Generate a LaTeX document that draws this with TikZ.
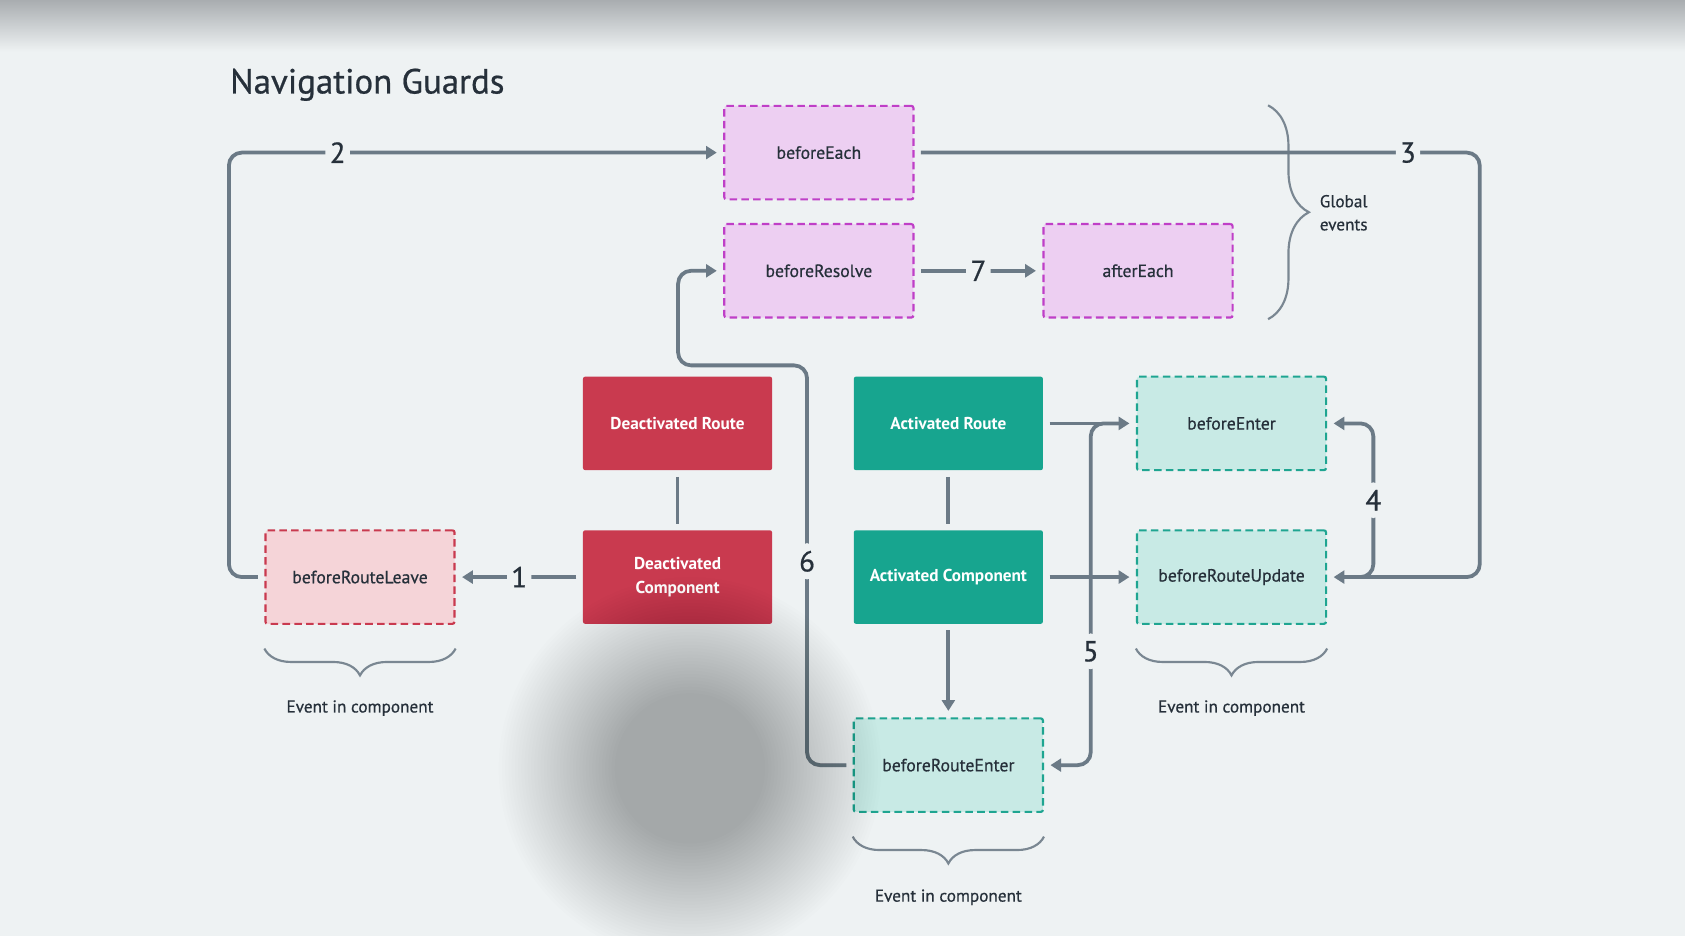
\documentclass[tikz,border=0pt]{standalone}
\usepackage{fontspec}
\setmainfont{PT Sans}
\newfontfamily\medfont{PT Sans}[FakeBold=0.6]
\usetikzlibrary{arrows.meta,positioning,calc,decorations.pathreplacing}
\definecolor{bgc}{HTML}{EEF2F3}
\definecolor{shadetop}{HTML}{A9ADB0}
\definecolor{redc}{HTML}{C93A4F}
\definecolor{tealc}{HTML}{17A58F}
\definecolor{pinkfill}{HTML}{F5D4D8}
\definecolor{purfill}{HTML}{EDCFF2}
\definecolor{purdraw}{HTML}{BF3FC7}
\definecolor{mintfill}{HTML}{C8EAE5}
\definecolor{mintdraw}{HTML}{1FA591}
\definecolor{linec}{HTML}{6B7A86}
\definecolor{bracec}{HTML}{7A8792}
\definecolor{textc}{HTML}{26303A}

\begin{document}
\begin{tikzpicture}[x=1pt,y=-1pt,
	box/.style={rectangle,rounded corners=2pt,minimum width=176pt,minimum height=87pt,inner sep=0pt,align=center,text=textc,font=\medfont\fontsize{16.5}{22}\selectfont},
	solidred/.style={box,fill=redc,text=white,font=\bfseries\fontsize{16}{22}\selectfont},
	solidteal/.style={box,fill=tealc,text=white,font=\bfseries\fontsize{16}{22}\selectfont},
	dashpink/.style={box,fill=pinkfill,draw=redc,line width=2pt,dash pattern=on 7pt off 4pt},
	dashpurple/.style={box,fill=purfill,draw=purdraw,line width=2pt,dash pattern=on 7pt off 4pt},
	dashmint/.style={box,fill=mintfill,draw=mintdraw,line width=2pt,dash pattern=on 7pt off 4pt},
	link/.style={draw=linec,line width=3.5pt,rounded corners=12pt,shorten <=6pt,shorten >=6pt,-{Triangle[length=10pt,width=12pt]}},
	bond/.style={draw=linec,line width=3.5pt,shorten <=6pt,shorten >=6pt},
	num/.style={fill=bgc,text=textc,font=\medfont\fontsize{27}{27}\selectfont,inner xsep=4pt,inner ysep=7pt},
	curly/.style={draw=bracec,line width=2pt,decorate,decoration={brace,amplitude=25pt}},
	note/.style={text=textc,font=\medfont\fontsize{16}{21.5}\selectfont,inner sep=0pt}]
		\def\xColA{335}
		\def\xColB{630.5}
		\def\xColC{762}
		\def\xColD{882.5}
		\def\xColE{1059}
		\def\xColF{1146}
		\def\yRowA{142}
		\def\yRowB{252}
		\def\yRowC{394}
		\def\yRowD{537}
		\def\yRowE{712}
		\def\xLeftRun{213}
		\def\xRightRun{1377}
		\def\xFour{1278}
		\def\xFive{1015}
		\def\xSix{751}
		\def\xSixUp{631}
		\def\ySixTurn{340}
		\def\yNote{663}
		\def\yNoteE{839}
		\def\xBlob{642}
		\def\yBlob{715}

\path[use as bounding box,fill=bgc] (0,0) rectangle (1568,871);
\shade[top color=shadetop,bottom color=bgc] (0,0) rectangle (1568,48);

\node[anchor=base west,text=textc,font=\medfont\fontsize{32.5}{32.5}\selectfont,inner sep=0pt] (title) at (214,87) {Navigation Guards};

\node[dashpurple] (be) at (\xColC,\yRowA) {beforeEach};
\node[dashpurple] (br) at (\xColC,\yRowB) {beforeResolve};
\node[dashpurple] (ae) at (\xColE,\yRowB) {afterEach};
\node[solidred] (dr) at (\xColB,\yRowC) {Deactivated Route};
\node[solidred] (dc) at (\xColB,\yRowD) {Deactivated\\Component};
\node[solidteal] (ar) at (\xColD,\yRowC) {Activated Route};
\node[solidteal] (ac) at (\xColD,\yRowD) {Activated Component};
\node[dashmint] (ben) at (\xColF,\yRowC) {beforeEnter};
\node[dashmint] (bru) at (\xColF,\yRowD) {beforeRouteUpdate};
\node[dashpink] (brl) at (\xColA,\yRowD) {beforeRouteLeave};
\node[dashmint] (bre) at (\xColD,\yRowE) {beforeRouteEnter};

\draw[curly] ([yshift=-22pt]brl.south east) -- ([yshift=-22pt]brl.south west);
\draw[curly] ([yshift=-22pt]bru.south east) -- ([yshift=-22pt]bru.south west);
\draw[curly] ([yshift=-22pt]bre.south east) -- ([yshift=-22pt]bre.south west);
\draw[curly,decoration={brace,amplitude=38pt}] (1180,98) -- (1180,297);

\node[note,anchor=base] (evl) at (\xColA,\yNote) {Event in component};
\node[note,anchor=base] (evu) at (\xColF,\yNote) {Event in component};
\node[note,anchor=base] (eve) at (\xColD,\yNoteE) {Event in component};
\node[note,anchor=west,align=left] (glob) at (1228,198) {Global\\events};

\draw[link] (dc.west) -- node[num]{1} (brl.east);
\draw[link] (brl.west) -- (\xLeftRun,\yRowD) -- (\xLeftRun,\yRowA) -- node[num,pos=0.22]{2} (be.west);
\draw[link] (be.east) -- node[num,pos=0.873]{3} (\xRightRun,\yRowA) -- (\xRightRun,\yRowD) -- (bru.east);
\draw[link,shorten <=14pt] (bru.east) -- (\xFour,\yRowD) -- node[num]{4} (\xFour,\yRowC) -- (ben.east);
\draw[link,shorten <=14pt] (ben.west) -- (\xFive,\yRowC) -- node[num,pos=0.667]{5} (\xFive,\yRowE) -- (bre.east);
\draw[link] (bre.west) -- (\xSix,\yRowE) -- node[num,pos=0.51]{6} (\xSix,\ySixTurn) -- (\xSixUp,\ySixTurn) -- (\xSixUp,\yRowB) -- (br.west);
\draw[link] (br.east) -- node[num]{7} (ae.west);
\draw[link] (ar.east) -- (ben.west);
\draw[link] (ac.east) -- (bru.west);
\draw[link] (ac.south) -- (bre.north);
\draw[bond] (dr.south) -- (dc.north);
\draw[bond] (ar.south) -- (ac.north);

\foreach \r in {70,73,...,178}
	\fill[black,fill opacity=0.0065] (\xBlob,\yBlob) circle (\r pt);

	\end{tikzpicture}
\end{document}
